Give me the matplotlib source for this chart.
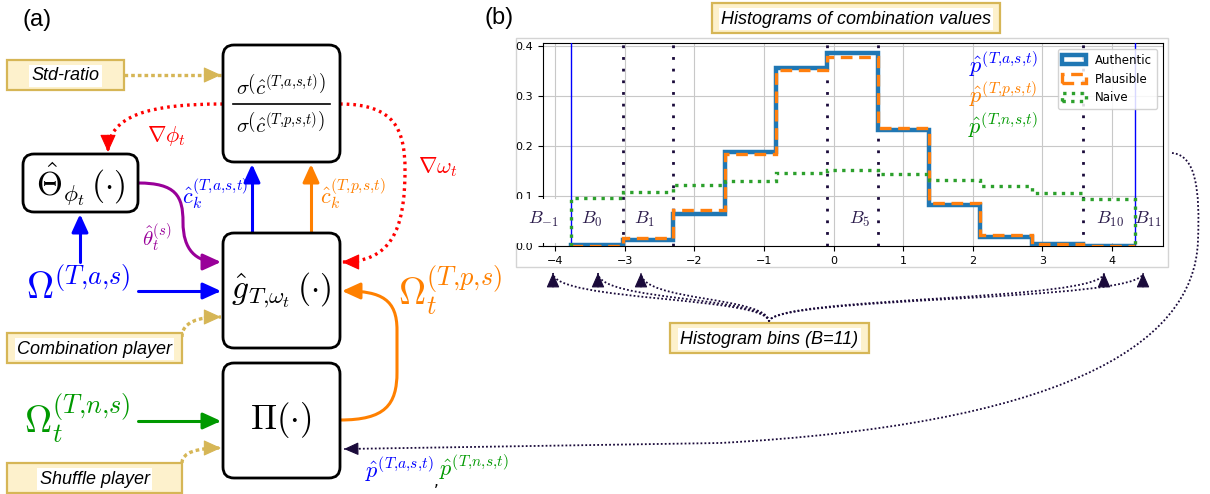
import numpy as np
import matplotlib
matplotlib.use('Agg')
import matplotlib.pyplot as plt
from matplotlib.patches import FancyBboxPatch, Rectangle, FancyArrowPatch, PathPatch
from matplotlib.path import Path

plt.rcParams['mathtext.fontset'] = 'cm'
plt.rcParams['font.family'] = ['DejaVu Sans']

# ---------------- data (histogram panel) ----------------
bin_edges = [-3.77, -3.03, -2.30, -1.56, -0.83, -0.10, 0.64, 1.37, 2.11, 2.85, 3.59, 4.33]
authentic = [0.002, 0.013, 0.064, 0.189, 0.357, 0.387, 0.233, 0.082, 0.019, 0.005, 0.001]
plausible = [0.001, 0.017, 0.073, 0.185, 0.353, 0.379, 0.237, 0.087, 0.022, 0.004, 0.001]
naive = [0.096, 0.108, 0.122, 0.131, 0.147, 0.152, 0.144, 0.132, 0.120, 0.107, 0.095]
series_names = ['Authentic', 'Plausible', 'Naive']
bin_marker_lines = [-3.03, -2.30, -0.10, 0.64, 3.59]
range_lines = [-3.77, 4.33]
bin_label_x = [-4.17, -3.47, -2.72, 0.37, 3.97, 4.52]
bin_label_txt = [r'$B_{-1}$', r'$B_0$', r'$B_1$', r'$B_5$', r'$B_{10}$', r'$B_{11}$']
xticks = [-4, -3, -2, -1, 0, 1, 2, 3, 4]
yticks = [0.0, 0.1, 0.2, 0.3, 0.4]

BLUE = '#0000ff'
GREEN = '#009900'
ORANGE = '#ff8000'
RED = '#ff0000'
PURPLE = '#990099'
TAN = '#d6b656'
NAVY = '#1a0a3a'

C_ = '{,}'  # comma without mathtext punctuation spacing


def sup(*parts):
    return '(' + C_.join(parts) + ')'


fig = plt.figure(figsize=(12.1, 4.94), dpi=100)

# ---------------- diagram layer (pixel coordinates) ----------------
d = fig.add_axes([0, 0, 1, 1], zorder=0)
d.set_xlim(0, 1210)
d.set_ylim(494, 0)
d.axis('off')


def rbox(x0, y0, x1, y1, r=11, lw=2.0):
    d.add_patch(FancyBboxPatch((x0, y0), x1 - x0, y1 - y0,
                               boxstyle=f'round,pad=0,rounding_size={r}',
                               fc='white', ec='black', lw=lw, zorder=3))


def tanbox(x0, y0, x1, y1, text, fs=13):
    d.add_patch(Rectangle((x0, y0), x1 - x0, y1 - y0, fc='#fdf1cc', ec=TAN, lw=1.6, zorder=3))
    d.text((x0 + x1) / 2, (y0 + y1) / 2 + 1, text, ha='center', va='center', fontsize=fs,
           family='Liberation Sans', style='italic', zorder=4,
           bbox=dict(fc='white', ec='none', pad=1.5))


def path_arrow(verts, codes, color, lw=2.2, ls='-', hl=1.1, hw=0.5, ms=10, z=2):
    p = Path(verts, codes)
    style = f'-|>,head_length={hl},head_width={hw}'
    if ls == '-':
        d.add_patch(FancyArrowPatch(path=p, arrowstyle=style, mutation_scale=ms,
                                    color=color, lw=lw, zorder=z))
        return
    d.add_patch(PathPatch(p, fc='none', ec=color, lw=lw, linestyle=ls, zorder=z,
                          capstyle='butt'))
    end = np.array(verts[-1], float)
    prev = np.array(verts[-2], float)
    u = (end - prev) / np.hypot(*(end - prev))
    head_px = hl * ms * 100 / 72.0
    start = end - u * (head_px + 1.5)
    d.add_patch(FancyArrowPatch(tuple(start), tuple(end), arrowstyle=style, mutation_scale=ms,
                                color=color, lw=0.8, shrinkA=0, shrinkB=0, zorder=z + 0.1))


M, L, C = Path.MOVETO, Path.LINETO, Path.CURVE4

# panel labels
d.text(37, 20, '(a)', fontsize=17, family='Liberation Sans', ha='center', va='center')
d.text(499, 18, '(b)', fontsize=17, family='Liberation Sans', ha='center', va='center')

# main boxes
rbox(223, 45, 340, 162)
rbox(23, 154, 138, 212)
rbox(223, 233, 340, 348)
rbox(223, 363, 340, 478)

d.text(281, 86, r'$\sigma\left(\hat{c}^{' + sup('T', 'a', 's', 't') + r'}\right)$',
       fontsize=15, ha='center', va='center', zorder=5)
d.plot([233, 330], [104, 104], color='black', lw=1.2, zorder=5)
d.text(281, 123, r'$\sigma\left(\hat{c}^{' + sup('T', 'p', 's', 't') + r'}\right)$',
       fontsize=15, ha='center', va='center', zorder=5)
d.text(81, 184, r'$\hat{\Theta}_{\phi_t}\,(\cdot)$', fontsize=24, ha='center', va='center', zorder=5)
d.text(281, 290, r'$\hat{g}_{T' + C_ + r'\omega_t}\,(\cdot)$', fontsize=24, ha='center',
       va='center', zorder=5)
d.text(281, 420, r'$\Pi(\cdot)$', fontsize=25, ha='center', va='center', zorder=5)

# tan labels
tanbox(7, 60, 124, 90, 'Std-ratio')
tanbox(7, 333, 182, 363, 'Combination player')
tanbox(7, 463, 182, 493, 'Shuffle player')
tanbox(712, 3, 1000, 33, 'Histograms of combination values')
tanbox(670, 323, 869, 353, 'Histogram bins (B=11)')

# tan dotted arrows
dotted_tan = (0, (1.1, 0.9))
path_arrow([(124, 75), (221, 75)], [M, L], TAN, lw=2.4, ls=dotted_tan)
path_arrow([(182, 337), (182, 322), (198, 317), (221, 317)], [M, C, C, C], TAN, lw=2.4, ls=dotted_tan)
path_arrow([(182, 463), (182, 452), (198, 448), (221, 448)], [M, C, C, C], TAN, lw=2.4, ls=dotted_tan)

# solid arrows
path_arrow([(138, 291), (221, 291)], [M, L], BLUE)
path_arrow([(138, 421), (221, 421)], [M, L], GREEN)
path_arrow([(80, 262), (80, 214)], [M, L], BLUE)
path_arrow([(252, 233), (252, 164)], [M, L], BLUE)
path_arrow([(311, 233), (311, 164)], [M, L], ORANGE)
# purple theta curve
path_arrow([(138, 183), (176, 183), (183, 196), (183, 222),
            (183, 250), (196, 262), (221, 262)], [M, C, C, C, C, C, C], PURPLE)
# orange loop from Pi to g
path_arrow([(340, 420), (385, 420), (397, 405), (397, 372), (397, 330),
            (397, 300), (382, 291), (342, 291)], [M, C, C, C, L, C, C, C], ORANGE)

# red dotted gradient arrows
dotted_red = (0, (0.8, 1.2))
path_arrow([(223, 104), (150, 104), (108, 115), (108, 152)], [M, C, C, C], RED, lw=2.4, ls=dotted_red)
path_arrow([(340, 104), (395, 104), (405, 130), (405, 170),
            (405, 232), (390, 262), (342, 262)], [M, C, C, C, C, C, C], RED, lw=2.4, ls=dotted_red)

# diagram labels
d.text(215, 194, r'$\hat{c}_k^{' + sup('T', 'a', 's', 't') + '}$', fontsize=16, color=BLUE,
       ha='center', va='center')
d.text(353, 194, r'$\hat{c}_k^{' + sup('T', 'p', 's', 't') + '}$', fontsize=16, color=ORANGE,
       ha='center', va='center')
d.text(166, 136, r'$\nabla\phi_t$', fontsize=16, color=RED, ha='center', va='center')
d.text(438, 167, r'$\nabla\omega_t$', fontsize=16, color=RED, ha='center', va='center')
d.text(157, 238, r'$\hat{\theta}_t^{(s)}$', fontsize=15, color=PURPLE, ha='center', va='center')
d.text(78, 288, r'$\Omega^{' + sup('T', 'a', 's') + '}$', fontsize=27, color=BLUE,
       ha='center', va='center')
d.text(77, 418, r'$\Omega_t^{' + sup('T', 'n', 's') + '}$', fontsize=27, color=GREEN,
       ha='center', va='center')
d.text(450, 290, r'$\Omega_t^{' + sup('T', 'p', 's') + '}$', fontsize=27, color=ORANGE,
       ha='center', va='center')
d.text(434, 470, r'$\hat{p}^{' + sup('T', 'a', 's', 't') + '}$', fontsize=16, color=BLUE,
       ha='right', va='center')
d.text(436, 481, ',', fontsize=11, color='black', ha='center', va='center')
d.text(439, 468, r'$\hat{p}^{' + sup('T', 'n', 's', 't') + '}$', fontsize=16, color=GREEN,
       ha='left', va='center')

# navy dotted arrows
dotted_navy = (0, (1.0, 1.2))
path_arrow([(1172, 153), (1196, 155), (1200, 190), (1198, 240),
            (1195, 350), (1050, 425), (720, 443), (344, 449)],
           [M, C, C, C, C, C, C, L], NAVY, lw=1.3, ls=dotted_navy, hl=0.9, hw=0.4)
for tx in [553, 598, 641, 1104, 1143]:
    path_arrow([(769, 322), (769, 296), (tx, 302), (tx, 273)], [M, C, C, C],
               NAVY, lw=1.3, ls=dotted_navy, hl=0.9, hw=0.4)

# frame around histogram
d.add_patch(Rectangle((516, 38), 652, 229, fc='none', ec='#d4d4d4', lw=1.0, zorder=1))

# ---------------- histogram panel ----------------
ax = fig.add_axes([543 / 1210, 1 - 246 / 494, (1163 - 543) / 1210, (246 - 43) / 494], zorder=1)
lefts = bin_edges[:-1]
ax.hist(lefts, bins=bin_edges, weights=authentic, histtype='step', color='#1f77b4',
        lw=3.2, label=series_names[0], zorder=4)
ax.hist(lefts, bins=bin_edges, weights=plausible, histtype='step', color='#ff7f0e',
        lw=2.4, ls=(0, (3.5, 2.0)), label=series_names[1], zorder=5)
ax.hist(lefts, bins=bin_edges, weights=naive, histtype='step', color='#2ca02c',
        lw=2.4, ls=(0, (1, 1.6)), label=series_names[2], zorder=5)
for xv in bin_marker_lines:
    ax.axvline(xv, color=NAVY, lw=2.0, ls=(0, (1, 3.2)), zorder=3)
for xv in range_lines:
    ax.axvline(xv, color=BLUE, lw=1.0, zorder=3)
ax.grid(True, color='#c8c8c8', lw=0.8)
ax.set_axisbelow(True)
ax.set_xticks(xticks)
ax.set_yticks(yticks)
ax.tick_params(labelsize=8)

# white overlay boxes behind bin labels
ax.add_patch(Rectangle((-4.62, 0.006), 0.82, 0.089, fc='white', ec='none', zorder=2.6,
                       clip_on=False))
ax.add_patch(Rectangle((3.62, 0.006), 0.69, 0.088, fc='white', ec='none', zorder=2.6))
for bx, bt in zip(bin_label_x, bin_label_txt):
    ax.text(bx, 0.054, bt, fontsize=13, color='#2a1a4a', ha='center', va='center', zorder=6)

ax.text(2.93, 0.362, r'$\hat{p}^{' + sup('T', 'a', 's', 't') + '}$', fontsize=16, color=BLUE,
        ha='right', va='center')
ax.text(2.93, 0.302, r'$\hat{p}^{' + sup('T', 'p', 's', 't') + '}$', fontsize=16, color=ORANGE,
        ha='right', va='center')
ax.text(2.93, 0.240, r'$\hat{p}^{' + sup('T', 'n', 's', 't') + '}$', fontsize=16, color=GREEN,
        ha='right', va='center')

leg = ax.legend(loc='upper right', fontsize=8.5, framealpha=0.85)
leg.set_zorder(10)

fig.savefig('out.png', dpi=100)
